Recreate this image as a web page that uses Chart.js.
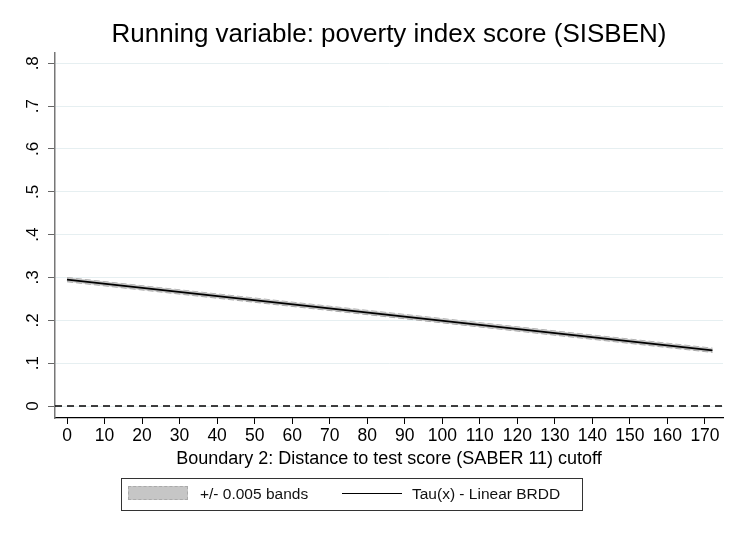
<!DOCTYPE html>
<html>
<head>
<meta charset="utf-8">
<script src="https://cdn.jsdelivr.net/npm/chart.js@4"></script>
<style>
  body { margin: 0; background: #fff; }
  #wrap { position: relative; width: 743px; height: 540px; }
  #legend {
    position: absolute; left: 121px; top: 478px; width: 460px; height: 31px;
    border: 1px solid #333; font-family: 'Liberation Sans', Arial, sans-serif; font-size: 15.5px; color: #111;
  }
  #legend .sw { position: absolute; }
  #legend .txt { position: absolute; top: 6px; }
</style>
</head>
<body>
<div id="wrap">
  <canvas id="chart" width="743" height="540"></canvas>
  <div id="legend">
    <div class="sw" style="left:6px;top:7px;width:58px;height:12px;background:#c6c6c6;border:1px dashed #aaa;"></div>
    <div class="txt" style="left:78px;">+/- 0.005 bands</div>
    <div class="sw" style="left:220px;top:14px;width:60px;height:0;border-top:1.5px solid #000;"></div>
    <div class="txt" style="left:290px;">Tau(x) - Linear BRDD</div>
  </div>
</div>
<script>
// values
const xPoints = [0, 172];
const tauValues = [0.295, 0.130];
const upperBand = [0.300, 0.135];
const lowerBand = [0.290, 0.125];

const xTicks = [0, 10, 20, 30, 40, 50, 60, 70, 80, 90, 100, 110, 120, 130, 140, 150, 160, 170];
const yTicks = [0, 0.1, 0.2, 0.3, 0.4, 0.5, 0.6, 0.7, 0.8];
const xMin = -3.2, xMax = 174.8;
const yMin = -0.028, yMax = 0.824;

const font = 'Liberation Sans';
const chartTitle = 'Running variable: poverty index score (SISBEN)';
const toXY = (vals) => xPoints.map((x, i) => ({ x: x, y: vals[i] }));

// title centred over the plot region (like Stata), not the whole canvas
const plotTitle = {
  id: 'plotTitle',
  afterDraw(chart) {
    const { ctx, chartArea } = chart;
    ctx.save();
    ctx.font = '26px ' + font;
    ctx.fillStyle = '#000';
    ctx.textAlign = 'center';
    ctx.textBaseline = 'middle';
    ctx.fillText(chartTitle, (chartArea.left + chartArea.right) / 2, 35);
    ctx.restore();
  }
};

new Chart(document.getElementById('chart').getContext('2d'), {
  type: 'line',
  data: {
    datasets: [
      {
        label: 'upper',
        data: toXY(upperBand),
        borderColor: '#a8a8a8',
        borderDash: [6, 3],
        borderWidth: 1,
        pointRadius: 0,
        fill: false,
        order: 3
      },
      {
        label: '+/- 0.005 bands',
        data: toXY(lowerBand),
        borderColor: '#a8a8a8',
        borderDash: [6, 3],
        borderWidth: 1,
        backgroundColor: '#c6c6c6',
        pointRadius: 0,
        fill: '-1',
        order: 2
      },
      {
        label: 'Tau(x) - Linear BRDD',
        data: toXY(tauValues),
        borderColor: '#000',
        borderWidth: 1.8,
        pointRadius: 0,
        fill: false,
        order: 0
      },
      {
        label: 'zero',
        data: [{ x: xMin, y: 0 }, { x: xMax, y: 0 }],
        borderColor: '#000',
        borderWidth: 1.5,
        borderDash: [7, 5],
        pointRadius: 0,
        fill: false,
        order: 1
      }
    ]
  },
  plugins: [plotTitle],
  options: {
    responsive: false,
    animation: false,
    layout: { padding: { left: 0, right: 20, top: 53, bottom: 70 } },
    plugins: {
      legend: { display: false },
      tooltip: { enabled: false },
      title: { display: false }
    },
    scales: {
      x: {
        type: 'linear',
        min: xMin,
        max: xMax,
        afterBuildTicks: (scale) => { scale.ticks = xTicks.map(v => ({ value: v })); },
        afterFit: (scale) => { scale.height = 52; },
        grid: { display: true, drawOnChartArea: false, tickLength: 6, tickColor: '#000' },
        border: { color: '#000', width: 1.2 },
        ticks: { color: '#000', font: { family: font, size: 17.5 }, padding: 2, maxRotation: 0, autoSkip: false },
        title: {
          display: true,
          text: 'Boundary 2: Distance to test score (SABER 11) cutoff',
          color: '#000',
          font: { family: font, size: 18 },
          padding: { top: 0, bottom: 0 }
        }
      },
      y: {
        type: 'linear',
        min: yMin,
        max: yMax,
        afterBuildTicks: (scale) => { scale.ticks = yTicks.map(v => ({ value: v })); },
        afterFit: (scale) => { scale.width = 55; },
        grid: { color: '#e6eff1', lineWidth: 1, tickLength: 7, tickColor: '#666' },
        border: { color: '#777', width: 1.5 },
        ticks: {
          color: '#000',
          font: { family: font, size: 17 },
          minRotation: 90,
          maxRotation: 90,
          crossAlign: 'center',
          padding: 8,
          callback: (v) => v === 0 ? '0' : String(Math.round(v * 10) / 10).replace(/^0/, '')
        }
      }
    }
  }
});
</script>
</body>
</html>
